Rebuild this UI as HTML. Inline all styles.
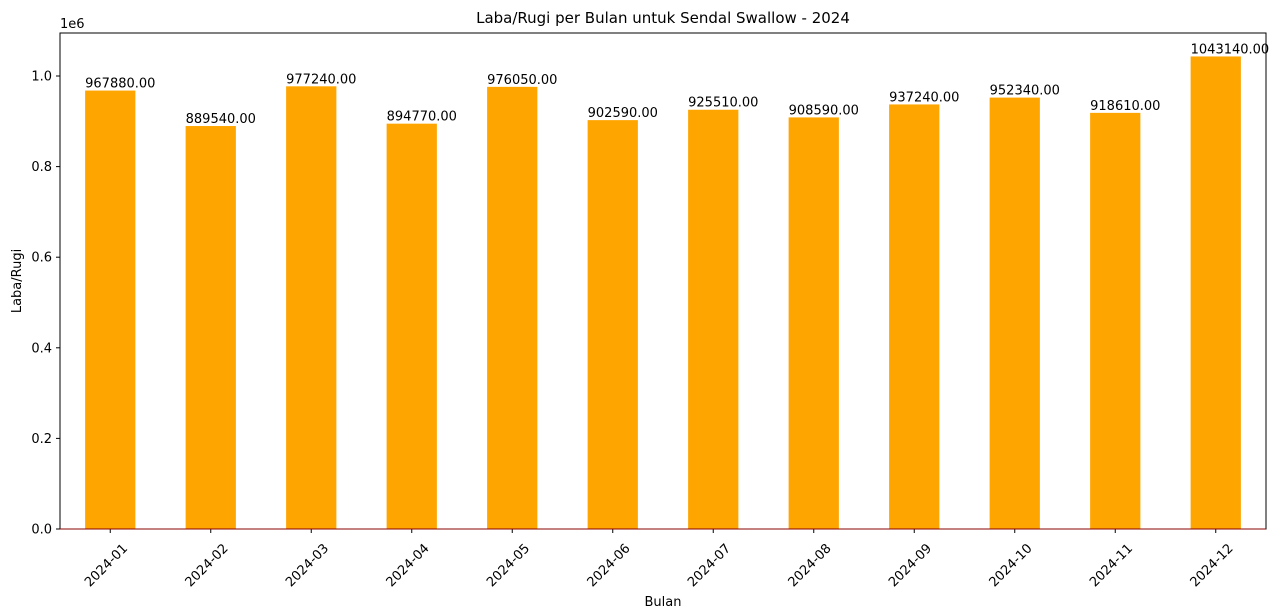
<!DOCTYPE html>
<html><head><meta charset="utf-8"><style>
body{margin:0;background:#fff;}
svg{display:block;font-family:"DejaVu Sans","Liberation Sans",sans-serif;}
</style></head><body>
<svg id="chart" width="1280" height="612"></svg>
<script>
const categories=["2024-01","2024-02","2024-03","2024-04","2024-05","2024-06","2024-07","2024-08","2024-09","2024-10","2024-11","2024-12"];
const profitValues=[967880,889540,977240,894770,976050,902590,925510,908590,937240,952340,918610,1043140];
const yTicks=[0,0.2,0.4,0.6,0.8,1.0];
const L=60,R=1266,T=33,B=529;
const svg=document.getElementById('chart');
const NS='http://www.w3.org/2000/svg';
function mk(tag,attrs,text){const e=document.createElementNS(NS,tag);for(const k in attrs)e.setAttribute(k,attrs[k]);if(text!==undefined)e.textContent=text;svg.appendChild(e);return e;}
const step=(R-L)/categories.length;
function xc(i){return L+step*(i+0.5);}
function y(v){return B-v/1e6*453;}
profitValues.forEach((v,i)=>{
  const w=step*0.5;
  const b=mk('rect',{x:xc(i)-w/2,y:y(v),width:w,height:B-y(v),fill:'#ffa500'});
  
  
  const t=mk('text',{x:xc(i)-w/2,y:y(v)-3,'font-size':13,fill:'#000'},v.toFixed(2));
  
  
  const tk=mk('line',{x1:xc(i),x2:xc(i),y1:B,y2:B+4,stroke:'#000'});
  
  
  const lx=xc(i)+18,ly=B+20;
  const xl=mk('text',{x:lx,y:ly,'font-size':13,'text-anchor':'end',transform:`rotate(-45 ${lx} ${ly})`},categories[i]);
  
  
});
yTicks.forEach(t=>{
  const yy=y(t*1e6);
  const l=mk('line',{x1:L-4,x2:L,y1:yy,y2:yy,stroke:'#000'});
  
  
  const tx=mk('text',{x:L-8,y:yy+4.5,'font-size':13,'text-anchor':'end'},t.toFixed(1));
  
  
});
const frame=mk('rect',{x:L,y:T,width:R-L,height:B-T,fill:'none',stroke:'#000','stroke-width':1});


const base=mk('line',{x1:L,x2:R,y1:B,y2:B,stroke:'#8b0000','stroke-width':1});


const off=mk('text',{x:L,y:T-5,'font-size':13},'1e6');


const title=mk('text',{x:(L+R)/2,y:23,'font-size':15,'text-anchor':'middle'},'Laba/Rugi per Bulan untuk Sendal Swallow - 2024');


const xt=mk('text',{x:(L+R)/2,y:606,'font-size':13,'text-anchor':'middle'},'Bulan');


const yt=mk('text',{x:21,y:(T+B)/2,'font-size':13,'text-anchor':'middle',transform:`rotate(-90 21 ${(T+B)/2})`},'Laba/Rugi');


</script>
</body></html>
